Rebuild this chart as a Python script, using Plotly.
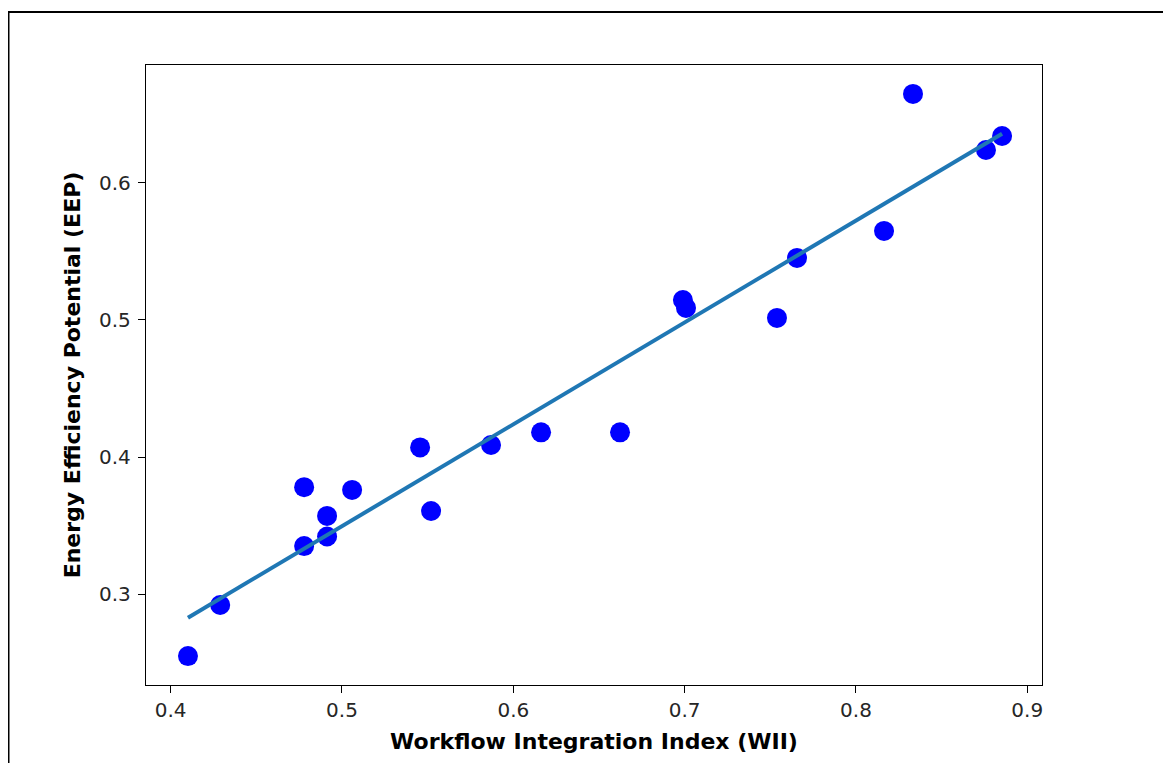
import numpy as np
import plotly.graph_objects as go

wii = [0.4101, 0.4289, 0.4779, 0.4779, 0.4913, 0.4913, 0.5059, 0.5456, 0.5520, 0.5870,
       0.6162, 0.6623, 0.6990, 0.7008, 0.7539, 0.7656, 0.8164, 0.8333, 0.8759, 0.8853]
eep = [0.2547, 0.2920, 0.3780, 0.3350, 0.3570, 0.3420, 0.3760, 0.4070, 0.3606, 0.4088,
       0.4180, 0.4180, 0.5146, 0.5088, 0.5015, 0.5453, 0.5650, 0.6650, 0.6241, 0.6343]

x_ticks = [0.4, 0.5, 0.6, 0.7, 0.8, 0.9]
y_ticks = [0.3, 0.4, 0.5, 0.6]

x_title = "Workflow Integration Index (WII)"
y_title = "Energy Efficiency Potential (EEP)"

slope, intercept = np.polyfit(wii, eep, 1)
fit_x = np.array(sorted(wii))
fit_y = slope * fit_x + intercept

fig = go.Figure()
fig.add_trace(go.Scatter(x=wii, y=eep, mode="markers",
                         marker=dict(color="blue", size=20, line=dict(width=0)),
                         showlegend=False))
fig.add_trace(go.Scatter(x=fit_x, y=fit_y, mode="lines",
                         line=dict(color="#1f77b4", width=4),
                         showlegend=False))

# page offset of the plot div (body margin)
OX, OY = 8, 7
L, R, T, B = 146 - OX, 1042 - OX, 64 - OY, 684 - OY
W, H = 1171, 763
pw, ph = R - L, B - T

def px_x(p):
    return (p - OX - L) / pw

def px_y(p):
    return (B - (p - OY)) / ph

fig.add_shape(type="rect", xref="paper", yref="paper",
              x0=px_x(8.5), x1=px_x(1240), y0=px_y(820), y1=px_y(11),
              line=dict(color="black", width=2), fillcolor="rgba(0,0,0,0)", layer="below")

axis_common = dict(showline=True, mirror=True, linecolor="black", linewidth=1.3,
                   ticks="outside", ticklen=7, tickwidth=1.2, tickcolor="black",
                   showgrid=False, zeroline=False,
                   tickfont=dict(family="DejaVu Sans", size=20, color="#262626"))

fig.update_layout(
    width=W, height=H,
    margin=dict(l=L, r=W - R, t=T, b=H - B),
    paper_bgcolor="white", plot_bgcolor="white",
    xaxis=dict(range=[0.3856, 0.9086], tickvals=x_ticks, ticktext=[str(v) for v in x_ticks],
               title=dict(text=f"<b>{x_title}</b>", font=dict(family="DejaVu Sans", size=22, color="black"), standoff=12),
               **axis_common),
    yaxis=dict(range=[0.2336, 0.6861], tickvals=y_ticks, ticktext=[str(v) for v in y_ticks],
               ticklabelstandoff=3,
               title=dict(text=f"<b>{y_title}</b>", font=dict(family="DejaVu Sans", size=22, color="black"), standoff=12),
               **axis_common),
)

fig.write_html("out.html")
